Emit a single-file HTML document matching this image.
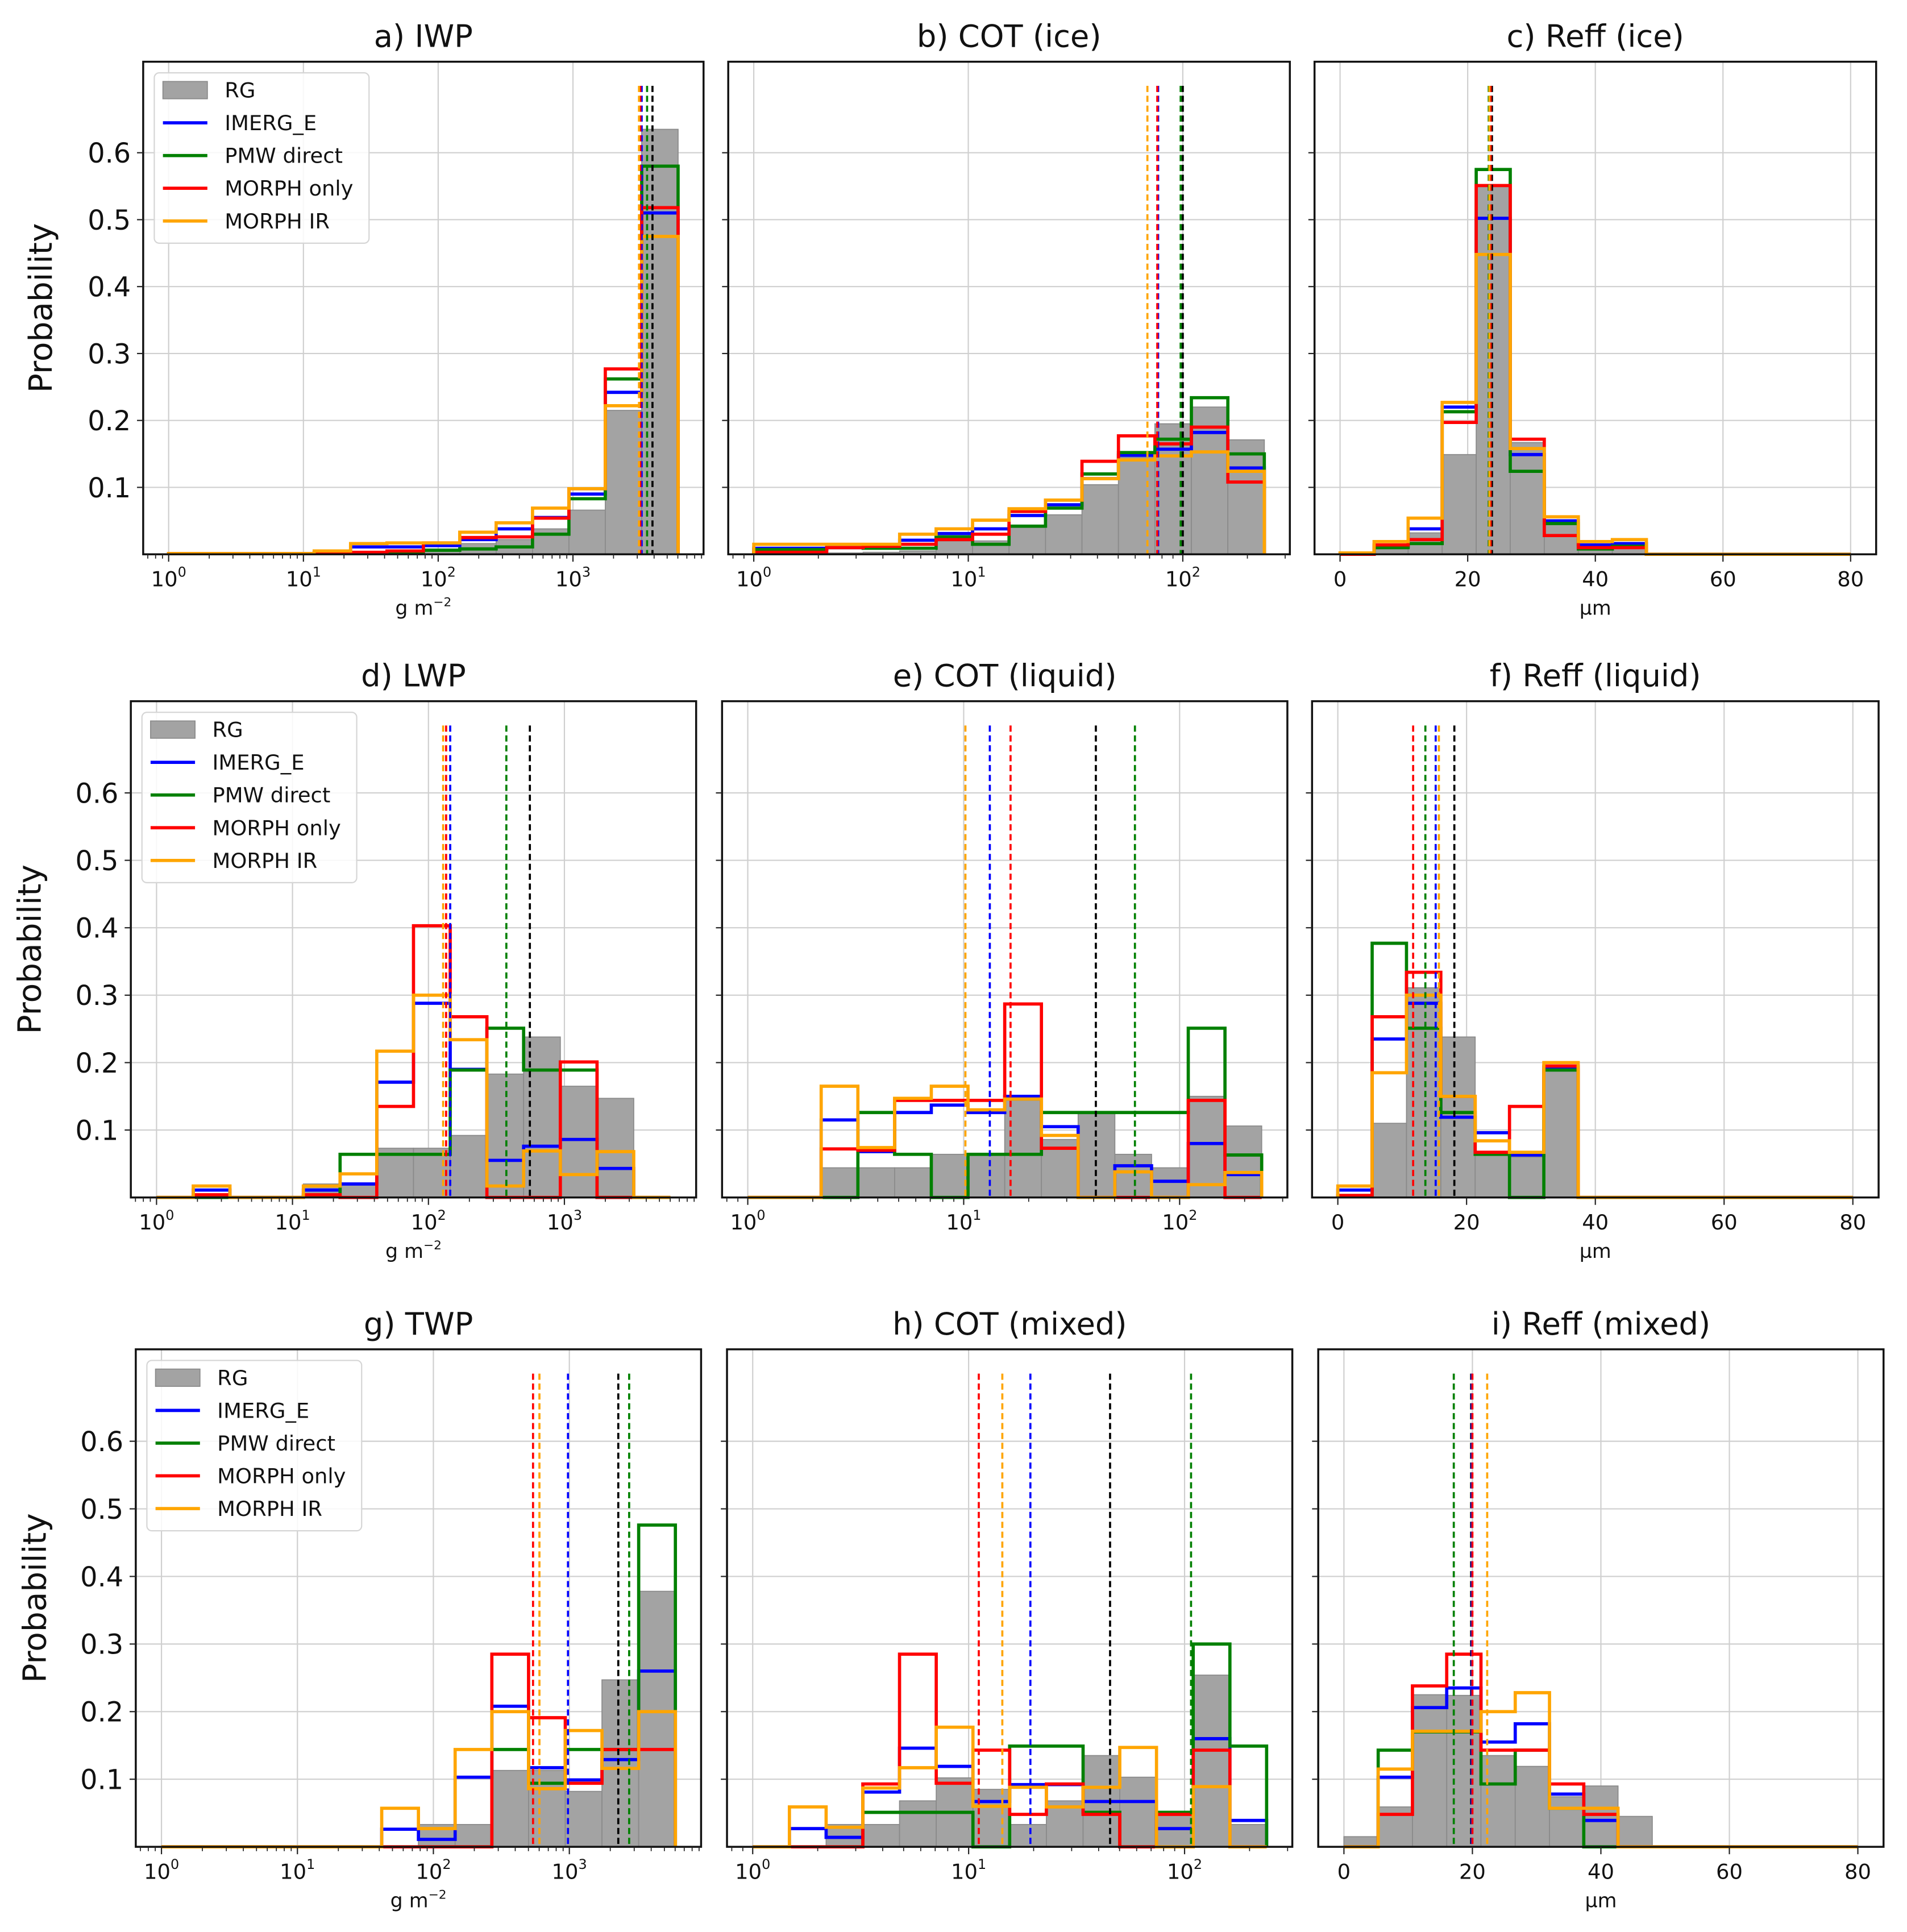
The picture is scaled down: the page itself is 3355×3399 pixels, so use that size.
<!DOCTYPE html>
<html><head><meta charset="utf-8"><title>Histograms</title>
<style>html,body{margin:0;padding:0;background:#fff}svg{display:block}</style></head>
<body>
<svg id="fig" xmlns="http://www.w3.org/2000/svg" width="3355" height="3399" viewBox="0 0 1545 1565" preserveAspectRatio="none" font-family="'DejaVu Sans','Liberation Sans',sans-serif"></svg>
<script>
// ---- data (bins: log10 for WP/COT panels, µm for Reff) ----
const aRG=[0.001,0.001,0.001,0.001,0.002,0.003,0.004,0.008,0.016,0.022,0.038,0.066,0.215,0.635];
const aIM=[0.001,0.001,0.001,0.001,0.003,0.011,0.011,0.013,0.022,0.038,0.055,0.09,0.242,0.51];
const aPMW=[0.001,0.001,0.001,0.001,0.002,0.002,0.002,0.006,0.008,0.011,0.03,0.083,0.262,0.58];
const aMO=[0.001,0.001,0.001,0.001,0.003,0.003,0.005,0.017,0.025,0.026,0.054,0.098,0.277,0.518];
const aMIR=[0.001,0.001,0.001,0.001,0.005,0.016,0.017,0.017,0.033,0.047,0.069,0.098,0.222,0.475];
const aMeans=[3.59,3.51,3.55,3.50,3.49];

const bRG=[0,0,0.002,0.003,0.005,0.02,0.02,0.04,0.059,0.104,0.145,0.195,0.22,0.171];
const bIM=[0.009,0.009,0.01,0.01,0.021,0.031,0.038,0.058,0.074,0.113,0.148,0.157,0.182,0.129];
const bPMW=[0.007,0.007,0.01,0.009,0.009,0.026,0.015,0.042,0.069,0.12,0.152,0.172,0.234,0.15];
const bMO=[0.003,0.003,0.01,0.012,0.015,0.022,0.03,0.064,0.081,0.139,0.177,0.165,0.19,0.108];
const bMIR=[0.015,0.015,0.015,0.015,0.03,0.038,0.051,0.068,0.081,0.113,0.141,0.147,0.153,0.124];
const bMeans=[2.0,1.885,1.99,1.881,1.835];

const cRG=[0,0.008,0.032,0.149,0.55,0.167,0.045,0.01,0.015,0,0,0,0,0,0];
const cIM=[0,0.012,0.038,0.22,0.502,0.149,0.05,0.014,0.016,0,0,0,0,0,0];
const cPMW=[0,0.01,0.016,0.213,0.575,0.124,0.046,0.008,0.012,0,0,0,0,0,0];
const cMO=[0,0.014,0.022,0.197,0.551,0.172,0.028,0.01,0.01,0,0,0,0,0,0];
const cMIR=[0.002,0.019,0.054,0.227,0.448,0.158,0.056,0.019,0.022,0,0,0,0,0,0];
const cMeans=[23.8,23.5,23.3,23.6,23.4];

const dRG=[0,0,0,0,0.02,0.019,0.073,0.073,0.092,0.183,0.238,0.165,0.147,0];
const dIM=[0,0.011,0,0,0.011,0.02,0.171,0.288,0.19,0.055,0.076,0.086,0.043,0];
const dPMW=[0,0,0,0,0.003,0.064,0.064,0.064,0.189,0.251,0.189,0.189,0,0];
const dMO=[0,0.004,0,0,0.004,0,0.135,0.403,0.268,0,0,0.201,0,0];
const dMIR=[0,0.017,0,0,0.017,0.035,0.217,0.3,0.234,0.017,0.069,0.034,0.068,0];
const dMeans=[2.746,2.16,2.573,2.13,2.108];

const eRG=[0,0,0.044,0.044,0.044,0.064,0.064,0.144,0.086,0.127,0.064,0.044,0.15,0.106];
const eIM=[0,0,0.115,0.068,0.126,0.137,0.126,0.15,0.105,0,0.047,0.024,0.08,0.034];
const ePMW=[0,0,0,0.126,0.064,0,0.064,0.064,0.126,0.126,0.126,0.126,0.251,0.063];
const eMO=[0,0,0.072,0.07,0.144,0.144,0.144,0.287,0.073,0,0,0,0.144,0];
const eMIR=[0,0,0.165,0.074,0.147,0.165,0.13,0.146,0.092,0,0.038,0,0.019,0.037];
const eMeans=[1.612,1.121,1.793,1.217,1.008];

const fRG=[0,0.11,0.311,0.238,0.064,0.06,0.19,0,0,0,0,0,0,0,0];
const fIM=[0.011,0.235,0.288,0.119,0.096,0.063,0.193,0,0,0,0,0,0,0,0];
const fPMW=[0.003,0.377,0.251,0.126,0.064,0,0.189,0,0,0,0,0,0,0,0];
const fMO=[0.003,0.268,0.334,0.15,0.067,0.135,0.195,0,0,0,0,0,0,0,0];
const fMIR=[0.017,0.185,0.3,0.15,0.084,0.067,0.2,0,0,0,0,0,0,0,0];
const fMeans=[18.1,15.2,13.6,11.7,15.7];

const gRG=[0,0,0,0,0,0,0,0.033,0.033,0.113,0.113,0.082,0.247,0.378];
const gIM=[0,0,0,0,0,0,0.026,0.011,0.103,0.208,0.117,0.099,0.129,0.26];
const gPMW=[0,0,0,0,0,0,0,0,0,0.144,0.094,0.144,0.144,0.476];
const gMO=[0,0,0,0,0,0,0,0,0,0.285,0.191,0.094,0.144,0.144];
const gMIR=[0,0,0,0,0,0,0.057,0.027,0.144,0.2,0.086,0.172,0.116,0.2];
const gMeans=[3.36,2.99,3.44,2.733,2.78];

const hRG=[0,0,0.033,0.033,0.068,0.102,0.085,0.033,0.068,0.135,0.103,0.048,0.254,0.033];
const hIM=[0,0.027,0.014,0.081,0.146,0.119,0.067,0.092,0.092,0.067,0.067,0.027,0.16,0.039];
const hPMW=[0,0,0,0.051,0.051,0.051,0,0.149,0.149,0.051,0,0.051,0.3,0.149];
const hMO=[0,0,0,0.093,0.285,0.094,0.143,0.048,0.093,0.048,0,0.048,0.143,0];
const hMIR=[0,0.059,0.029,0.087,0.117,0.177,0.06,0.088,0.059,0.088,0.147,0,0.089,0];
const hMeans=[1.655,1.286,2.03,1.047,1.156];

const iRG=[0.015,0.059,0.225,0.224,0.135,0.119,0.074,0.09,0.045,0,0,0,0,0,0];
const iIM=[0,0.103,0.206,0.235,0.155,0.182,0.078,0.039,0,0,0,0,0,0,0];
const iPMW=[0,0.143,0.17,0.17,0.093,0.143,0.057,0,0,0,0,0,0,0,0];
const iMO=[0,0.048,0.238,0.285,0.143,0.143,0.093,0.048,0,0,0,0,0,0,0];
const iMIR=[0,0.115,0.171,0.171,0.2,0.228,0.057,0.057,0,0,0,0,0,0,0];
const iMeans=[19.8,19.9,17.1,20.0,22.3];

const seriesNames=["RG","IMERG_E","PMW direct","MORPH only","MORPH IR"];
const yTicks=[0.1,0.2,0.3,0.4,0.5,0.6];
const ticksWP=[0,1,2,3];
const ticksCOT=[0,1,2];
const ticksReff=[0,20,40,60,80];

const NS="http://www.w3.org/2000/svg";
const svg=document.getElementById('fig');
const COLORS=["#000000","#0000ff","#008000","#ff0000","#ffa500"];
function mk(tag,attrs,parent){const e=document.createElementNS(NS,tag);for(const k in attrs)e.setAttribute(k,attrs[k]);(parent||svg).appendChild(e);return e;}

const panels=[
 {id:"a",title:"a) IWP",box:[116,50,570,449],kind:"wp",bins:[0,3.78,14],d:[aRG,aIM,aPMW,aMO,aMIR],m:aMeans,legend:true,yl:42},
 {id:"b",title:"b) COT (ice)",box:[590,50,1045,449],kind:"cot",bins:[0,2.38,14],d:[bRG,bIM,bPMW,bMO,bMIR],m:bMeans},
 {id:"c",title:"c) Reff (ice)",box:[1065,50,1520,449],kind:"reff",bins:[0,80,15],d:[cRG,cIM,cPMW,cMO,cMIR],m:cMeans},
 {id:"d",title:"d) LWP",box:[106,568,564,970],kind:"wp",bins:[0,3.78,14],d:[dRG,dIM,dPMW,dMO,dMIR],m:dMeans,legend:true,yl:33},
 {id:"e",title:"e) COT (liquid)",box:[585,568,1043,970],kind:"cot",bins:[0,2.38,14],d:[eRG,eIM,ePMW,eMO,eMIR],m:eMeans},
 {id:"f",title:"f) Reff (liquid)",box:[1063,568,1522,970],kind:"reff",bins:[0,80,15],d:[fRG,fIM,fPMW,fMO,fMIR],m:fMeans},
 {id:"g",title:"g) TWP",box:[110,1093,568,1496],kind:"wp",bins:[0,3.78,14],d:[gRG,gIM,gPMW,gMO,gMIR],m:gMeans,legend:true,yl:37},
 {id:"h",title:"h) COT (mixed)",box:[589,1093,1047,1496],kind:"cot",bins:[0,2.38,14],d:[hRG,hIM,hPMW,hMO,hMIR],m:hMeans},
 {id:"i",title:"i) Reff (mixed)",box:[1068,1093,1526,1496],kind:"reff",bins:[0,80,15],d:[iRG,iIM,iPMW,iMO,iMIR],m:iMeans}
];

panels.forEach(p=>{
  const [L,T,R,B]=p.box;
  const g=mk('g',{});
  
  
  const span=p.bins[1]-p.bins[0], pad=span*0.05;
  const xmin=p.bins[0]-pad, xmax=p.bins[1]+pad;
  const X=v=>L+(v-xmin)/(xmax-xmin)*(R-L);
  const YMAX=0.736;
  const Y=v=>B-v/YMAX*(B-T);
  const ticks=p.kind==="wp"?ticksWP:(p.kind==="cot"?ticksCOT:ticksReff);
  ticks.forEach(t=>{mk('line',{x1:X(t),x2:X(t),y1:T,y2:B,stroke:'#cfcfcf','stroke-width':1},g);});
  yTicks.forEach(t=>{mk('line',{x1:L,x2:R,y1:Y(t),y2:Y(t),stroke:'#cfcfcf','stroke-width':1},g);});
  const n=p.bins[2], w=span/n;
  const edge=k=>X(p.bins[0]+k*w);
  p.d[0].forEach((v,k)=>{
    if(v<=0)return;
    const r=mk('rect',{x:edge(k),y:Y(v),width:edge(k+1)-edge(k),height:B-Y(v),fill:'#a3a3a3',stroke:'#8a8a8a','stroke-width':0.8},g);
    
    
  });
  for(let s=1;s<5;s++){
    const vals=p.d[s];
    let dstr='M'+edge(0)+','+B;
    vals.forEach((v,k)=>{dstr+=' L'+edge(k)+','+Y(v)+' L'+edge(k+1)+','+Y(v);});
    dstr+=' L'+edge(n)+','+B;
    const pa=mk('path',{d:dstr,fill:'none',stroke:COLORS[s],'stroke-width':2.6,'stroke-linejoin':'miter'},g);
    
    
  }
  [0,2,1,3,4].forEach(s=>{
    const x=X(p.m[s]);
    const ln=mk('line',{x1:x,x2:x,y1:Y(0.70),y2:B,stroke:COLORS[s],'stroke-width':1.7,'stroke-dasharray':'5,3'},g);
    
    
  });
  mk('rect',{x:L,y:T,width:R-L,height:B-T,fill:'none',stroke:'#111','stroke-width':1.6},g);
  yTicks.forEach(t=>{
    mk('line',{x1:L-5,x2:L,y1:Y(t),y2:Y(t),stroke:'#222','stroke-width':1},g);
    if(p.legend){
      const tx=mk('text',{x:L-10,y:Y(t)+8,'font-size':22,'text-anchor':'end',fill:'#111'},g);
      tx.textContent=t.toFixed(1);
      
      
    }
  });
  ticks.forEach(t=>{
    mk('line',{x1:X(t),x2:X(t),y1:B,y2:B+6,stroke:'#222','stroke-width':1},g);
    const tx=mk('text',{x:X(t),y:B+26,'font-size':17,'text-anchor':'middle',fill:'#111'},g);
    
    
    if(p.kind==="reff"){tx.textContent=String(t);}
    else{tx.textContent='10';const sp=mk('tspan',{dy:-8,'font-size':11},tx);sp.textContent=String(t);}
  });
  if(p.kind!=="reff"){
    for(let dec=Math.floor(xmin);dec<=Math.ceil(xmax);dec++){
      for(let m=2;m<10;m++){const lv=dec+Math.log10(m);if(lv<xmin||lv>xmax)continue;
        mk('line',{x1:X(lv),x2:X(lv),y1:B,y2:B+3.5,stroke:'#222','stroke-width':0.8},g);}
    }
  }
  const ti=mk('text',{x:(L+R)/2,y:T-12,'font-size':25,'text-anchor':'middle',fill:'#111'},g);
  ti.textContent=p.title;
  
  
  const xl=mk('text',{x:(L+R)/2,y:B+49,'font-size':16,'text-anchor':'middle',fill:'#111'},g);
  
  
  if(p.kind==="wp"){xl.textContent='g m';const s2=mk('tspan',{dy:-7,'font-size':10},xl);s2.textContent='−2';}
  else if(p.kind==="reff"){xl.textContent='µm';}
  else xl.textContent='';
  if(p.yl){
    const cy=(T+B)/2;
    const yl=mk('text',{x:p.yl,y:cy,'font-size':26,'text-anchor':'middle',fill:'#111',transform:'rotate(-90 '+p.yl+' '+cy+')'},g);
    yl.textContent='Probability';
    
    
  }
  if(p.legend){
    const lx=L+9, ly=T+9;
    const lg=mk('g',{},g);
    
    
    mk('rect',{x:lx,y:ly,width:174,height:138,rx:4,fill:'#fff','fill-opacity':0.85,stroke:'#d5d5d5','stroke-width':1},lg);
    seriesNames.forEach((nm,s)=>{
      const ey=ly+14+s*26.5;
      if(s===0) mk('rect',{x:lx+7,y:ey-7,width:36,height:14,fill:'#a3a3a3',stroke:'#8a8a8a','stroke-width':0.8},lg);
      else mk('line',{x1:lx+7,x2:lx+43,y1:ey,y2:ey,stroke:COLORS[s],'stroke-width':2.6},lg);
      const t=mk('text',{x:lx+57,y:ey+6,'font-size':17,fill:'#111'},lg);
      t.textContent=nm;
      
      
    });
  }
});
</script>
</body></html>
